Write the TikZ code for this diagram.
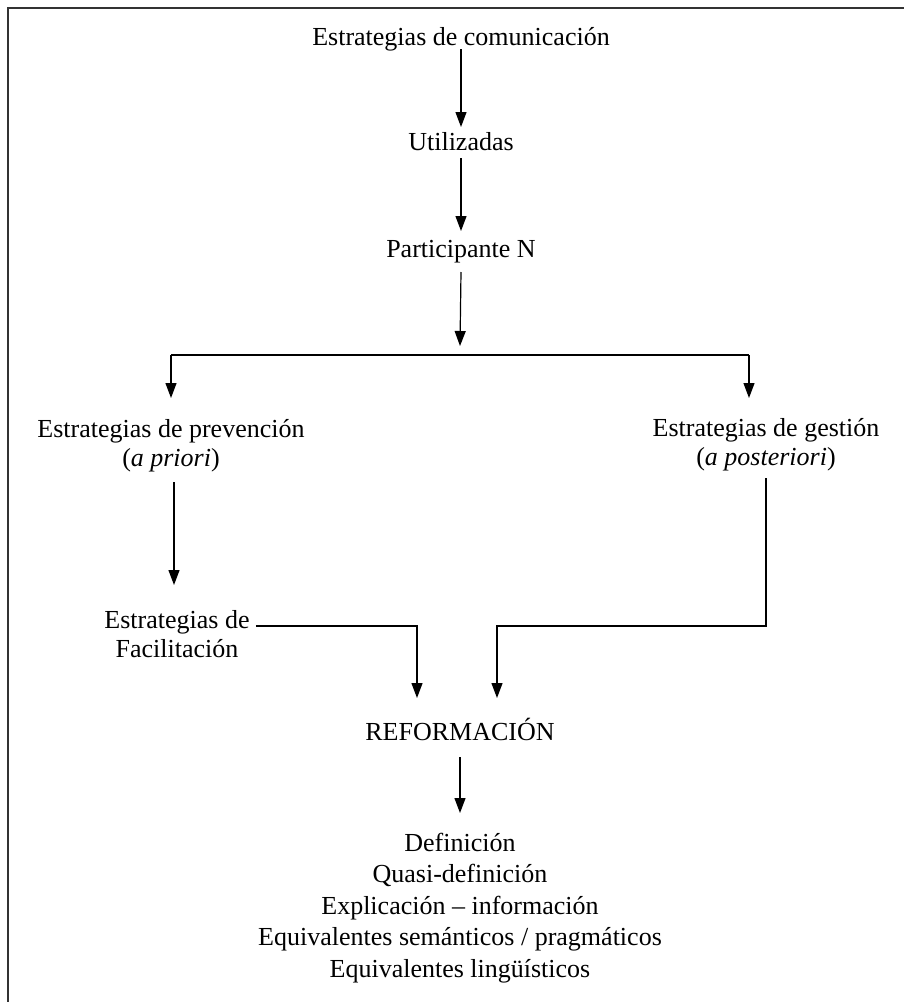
\documentclass[tikz,border=0pt]{standalone}
\usepackage{fontspec}
\setmainfont{Liberation Serif}
\usetikzlibrary{arrows.meta,calc}

\begin{document}
\begin{tikzpicture}[x=1pt,y=-1pt]
\tikzstyle{every node}=[inner sep=0pt,anchor=base,align=center,font=\fontsize{26}{29}\selectfont];
\tikzstyle{arr}=[line width=1.2pt,-{Triangle[length=15pt,width=11pt]}];
\tikzstyle{link}=[line width=1.2pt];
\useasboundingbox (0,0) rectangle (903,1002);
% frame
\draw[line width=2pt,black!80] (8,1010) -- (8,7.5) -- (910,7.5);

% base of a two-line node is its last line
\node (comm) at (461,45) {Estrategias de comunicación};
\node (used) at (461,150) {Utilizadas};
\node (part) at (461,257) {Participante N};
\node (prev) at (171,466) {Estrategias de prevención\\(\textit{a priori})};
\node (gest) at (766,465) {Estrategias de gestión\\(\textit{a posteriori})};
\node (facil) at (177,657) {Estrategias de\\Facilitación};
\node (refor) at (460,740) {REFORMACIÓN};
\node[font=\fontsize{26}{31.5}\selectfont] (list) at (460,977) {Definición\\Quasi-definición\\Explicación -- información\\Equivalentes semánticos / pragmáticos\\Equivalentes lingüísticos};

\coordinate (fork) at (460,355);
\coordinate (forkL) at (171,355);
\coordinate (forkR) at (749,355);

\draw[arr] ($(comm.base)+(0,4)$) -- ($(used.base)+(0,-23)$);
\draw[arr] ($(used.base)+(0,8)$) -- ($(part.base)+(0,-26)$);
\draw[arr] ($(part.base)+(0,15)$) -- ($(fork)+(0,-9)$);
\draw[link] (forkL) -- (forkR);
\draw[arr] (forkL) -- ($(forkL)+(0,43)$);
\draw[arr] (forkR) -- ($(forkR)+(0,43)$);
\draw[arr] ($(prev.base)+(3,16)$) -- ($(facil.base)+(-3,-72)$);
\draw[arr] ($(facil.base -| facil.east)+(6,-31)$) -| ($(refor.base)+(-43,-42)$);
\draw[arr] ($(gest.base)+(0,13)$) -- ($(gest.base)+(0,161)$) -| ($(refor.base)+(37,-42)$);
\draw[arr] ($(refor.base)+(0,17)$) -- ($(list.base)+(0,-164)$);
\end{tikzpicture}
\end{document}
